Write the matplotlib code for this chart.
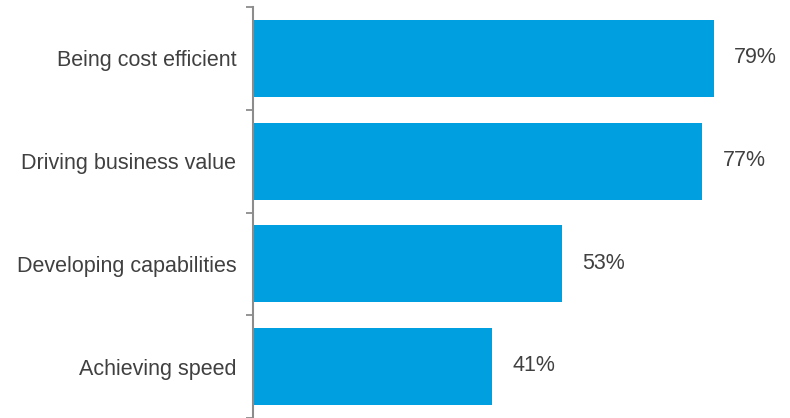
import matplotlib
matplotlib.use("Agg")
import matplotlib.pyplot as plt
import numpy as np

categories = ["Being cost efficient", "Driving business value", "Developing capabilities", "Achieving speed"]
values = [79, 77, 53, 41]
value_labels = ["79%", "77%", "53%", "41%"]

bar_color = "#009FDF"
text_color = "#404040"
axis_color = "#8C8C8C"

plt.rcParams['font.family'] = ['Liberation Sans', 'DejaVu Sans']

fig = plt.figure(figsize=(7.9, 4.18), dpi=100)
ax = fig.add_axes([253/790, 0.0, 1 - 253/790, 1 - 7/418])

y = np.arange(len(categories))
ax.barh(y, values, height=0.75, color=bar_color, zorder=2)
ax.set_ylim(len(categories) - 0.5, -0.5)
ax.set_xlim(0, 92)

for yi, v, lab in zip(y, values, value_labels):
    ax.annotate(lab, xy=(v, yi), xytext=(14.4, 0.5), textcoords="offset points",
                ha="left", va="center", fontsize=15.5, color=text_color)

ax.set_yticks(y)
ax.set_yticklabels(categories, fontsize=15.5, color=text_color)
ax.tick_params(axis="y", which="major", length=0, pad=12)
ax.set_yticks(np.arange(-0.5, len(categories) + 0.5, 1), minor=True)
ax.tick_params(axis="y", which="minor", length=5, width=1.3, color=axis_color)
ax.set_xticks([])

for s in ["top", "right", "bottom"]:
    ax.spines[s].set_visible(False)
ax.spines["left"].set_color(axis_color)
ax.spines["left"].set_linewidth(1.5)

fig.savefig("out.png", dpi=100)
